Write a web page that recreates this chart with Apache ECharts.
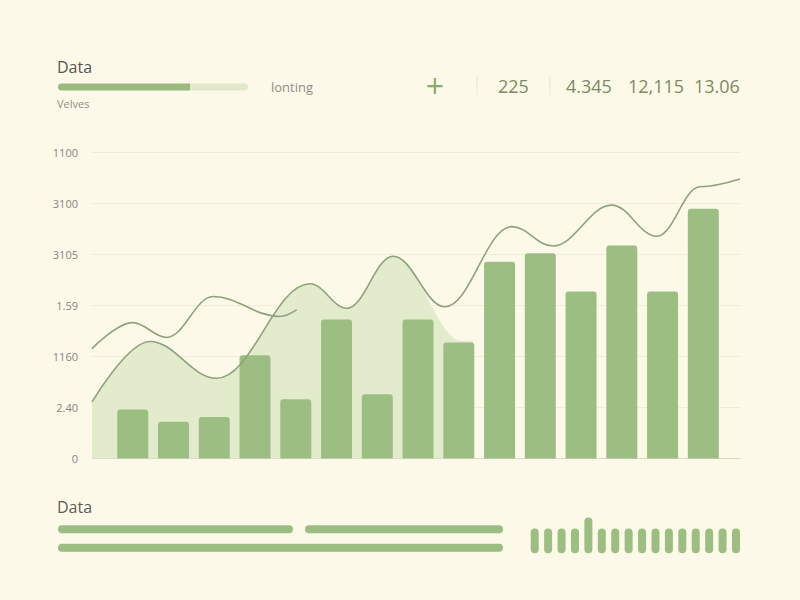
<!DOCTYPE html>
<html><head><meta charset="utf-8">
<script src="https://cdn.jsdelivr.net/npm/echarts@6/dist/echarts.min.js"></script>
<style>html,body{margin:0;padding:0;background:#fcf9e9;} #c{width:800px;height:600px;}</style>
</head><body><div id="c"></div>
<script>
// ---- data ----
const yTickLabels = ['0', '2.40', '1160', '1.59', '3105', '3100', '1100'];
const barValues = [0.96, 0.72, 0.81, 2.02, 1.16, 2.72, 1.26, 2.72, 2.27, 3.85, 4.02, 3.27, 4.17, 3.27, 4.89];
const trendLine = [[0, 1.11], [1.42, 2.29], [3.06, 1.57], [5.35, 3.42], [6.25, 2.94], [7.39, 3.96], [8.66, 2.97], [10.3, 4.54], [11.31, 4.16], [12.75, 4.96], [13.86, 4.35], [14.92, 5.32], [15.9, 5.47]];
const shadeArea = [[0, 1.11], [1.42, 2.29], [3.06, 1.57], [5.35, 3.42], [6.25, 2.94], [7.39, 3.96], [9.1, 2.3], [9.35, 2.3]];
const upperLine = [[0, 2.15], [1.0, 2.66], [1.83, 2.37], [2.97, 3.17], [4.61, 2.78], [5.02, 2.91]];
const headerStats = ['225', '4.345', '12,115', '13.06'];
const progressParts = [132, 58];
const rowSegA = [235, 445];
const rowGap = [12, 0];
const rowSegB = [198, 0];
const miniBars = [25, 25, 25, 25, 36, 25, 25, 25, 25, 25, 25, 25, 25, 25, 25, 25];

const barData = barValues.map((v, i) => [i + 1, v]);
const miniCats = miniBars.map((v, i) => 'm' + i);

const FONT = '"Open Sans", "Noto Sans", sans-serif';
const BAR = '#9dbe82';
const LINE = '#8fa27d';
const FILL = '#e3ebcd';
const LIGHT = '#e2e9cb';
const SMOOTH = 0.38;

const chart = echarts.init(document.getElementById('c'), null, { renderer: 'svg' });

const statX = [498, 566, 628, 694];
const texts = [
  { type: 'text', style: { text: 'Data', x: 57, y: 67, fill: '#555555', fontSize: 16, fontFamily: FONT, verticalAlign: 'middle' } },
  { type: 'text', style: { text: 'lonting', x: 271, y: 87, fill: '#8f8f88', fontSize: 13, fontFamily: FONT, verticalAlign: 'middle' } },
  { type: 'text', style: { text: 'Velves', x: 57, y: 103, fill: '#8f8f88', fontSize: 11, fontFamily: FONT, verticalAlign: 'middle' } },
  { type: 'text', style: { text: '+', x: 435, y: 85, fill: '#8aab6e', fontSize: 32, fontFamily: FONT, align: 'center', verticalAlign: 'middle' } },
  { type: 'line', shape: { x1: 477, y1: 77, x2: 477, y2: 95 }, style: { stroke: '#e6e4d2', lineWidth: 1 } },
  { type: 'line', shape: { x1: 550, y1: 77, x2: 550, y2: 95 }, style: { stroke: '#e6e4d2', lineWidth: 1 } },
  { type: 'text', style: { text: 'Data', x: 57, y: 507, fill: '#5c5c5c', fontSize: 16, fontFamily: FONT, verticalAlign: 'middle' } }
];
headerStats.forEach((s, i) => {
  texts.push({ type: 'text', style: { text: s, x: statX[i], y: 86, fill: '#7d8b62', fontSize: 18, fontFamily: FONT, verticalAlign: 'middle' } });
});

const option = {
  backgroundColor: '#fcf9e9',
  animation: false,
  graphic: texts,
  grid: [
    { left: 92, right: 60, top: 152, bottom: 141.5 },
    { left: 58, top: 83.5, width: 190, height: 7 },
    { left: 58, top: 520, width: 445, height: 37 },
    { left: 528, top: 517.5, width: 214.7, height: 35.8 }
  ],
  xAxis: [
    { type: 'value', gridIndex: 0, min: 0, max: 15.9, axisLabel: { show: false }, axisTick: { show: false }, splitLine: { show: false },
      axisLine: { show: true, lineStyle: { color: '#d7dac6', width: 1 } } },
    { type: 'value', gridIndex: 1, min: 0, max: 190, show: false },
    { type: 'value', gridIndex: 2, min: 0, max: 445, show: false },
    { type: 'category', gridIndex: 3, data: miniCats, show: false }
  ],
  yAxis: [
    { type: 'value', gridIndex: 0, min: 0, max: 6, interval: 1,
      axisLine: { show: false }, axisTick: { show: false },
      splitLine: { lineStyle: { color: '#efedda', width: 1 } },
      axisLabel: { formatter: v => yTickLabels[Math.round(v)], color: '#85857f', fontSize: 11, fontFamily: FONT, margin: 14 } },
    { type: 'category', gridIndex: 1, data: ['p'], show: false },
    { type: 'category', gridIndex: 2, data: ['a', 'b'], inverse: true, show: false },
    { type: 'value', gridIndex: 3, min: 0, max: 36, show: false }
  ],
  series: [
    { type: 'line', name: 'shade', xAxisIndex: 0, yAxisIndex: 0, data: shadeArea, smooth: SMOOTH, smoothMonotone: 'x', symbol: 'none',
      lineStyle: { width: 0, opacity: 0 }, areaStyle: { color: FILL, opacity: 1 }, z: 1 },
    { type: 'bar', name: 'bars', xAxisIndex: 0, yAxisIndex: 0, data: barData, barWidth: 31,
      itemStyle: { color: BAR, borderRadius: [3, 3, 0, 0] }, z: 2 },
    { type: 'line', name: 'trend', xAxisIndex: 0, yAxisIndex: 0, data: trendLine, smooth: SMOOTH, smoothMonotone: 'x', symbol: 'none',
      lineStyle: { color: LINE, width: 1.6 }, z: 3 },
    { type: 'line', name: 'upper', xAxisIndex: 0, yAxisIndex: 0, data: upperLine, smooth: SMOOTH, smoothMonotone: 'x', symbol: 'none',
      lineStyle: { color: LINE, width: 1.6 }, z: 3 },
    { type: 'bar', xAxisIndex: 1, yAxisIndex: 1, stack: 'p', data: [progressParts[0]], barWidth: 7,
      itemStyle: { color: '#9aba7e', borderRadius: [3.5, 0, 0, 3.5] } },
    { type: 'bar', xAxisIndex: 1, yAxisIndex: 1, stack: 'p', data: [progressParts[1]], barWidth: 7,
      itemStyle: { color: LIGHT, borderRadius: [0, 3.5, 3.5, 0] } },
    { type: 'bar', xAxisIndex: 2, yAxisIndex: 2, stack: 'r', data: rowSegA, barWidth: 8,
      itemStyle: { color: BAR, borderRadius: 4 } },
    { type: 'bar', xAxisIndex: 2, yAxisIndex: 2, stack: 'r', data: rowGap, barWidth: 8,
      itemStyle: { color: 'rgba(0,0,0,0)' } },
    { type: 'bar', xAxisIndex: 2, yAxisIndex: 2, stack: 'r', data: rowSegB, barWidth: 8,
      itemStyle: { color: BAR, borderRadius: 4 } },
    { type: 'bar', xAxisIndex: 3, yAxisIndex: 3, data: miniBars, barWidth: 8,
      itemStyle: { color: BAR, borderRadius: 4 } }
  ]
};
chart.setOption(option);
</script>
</body></html>
